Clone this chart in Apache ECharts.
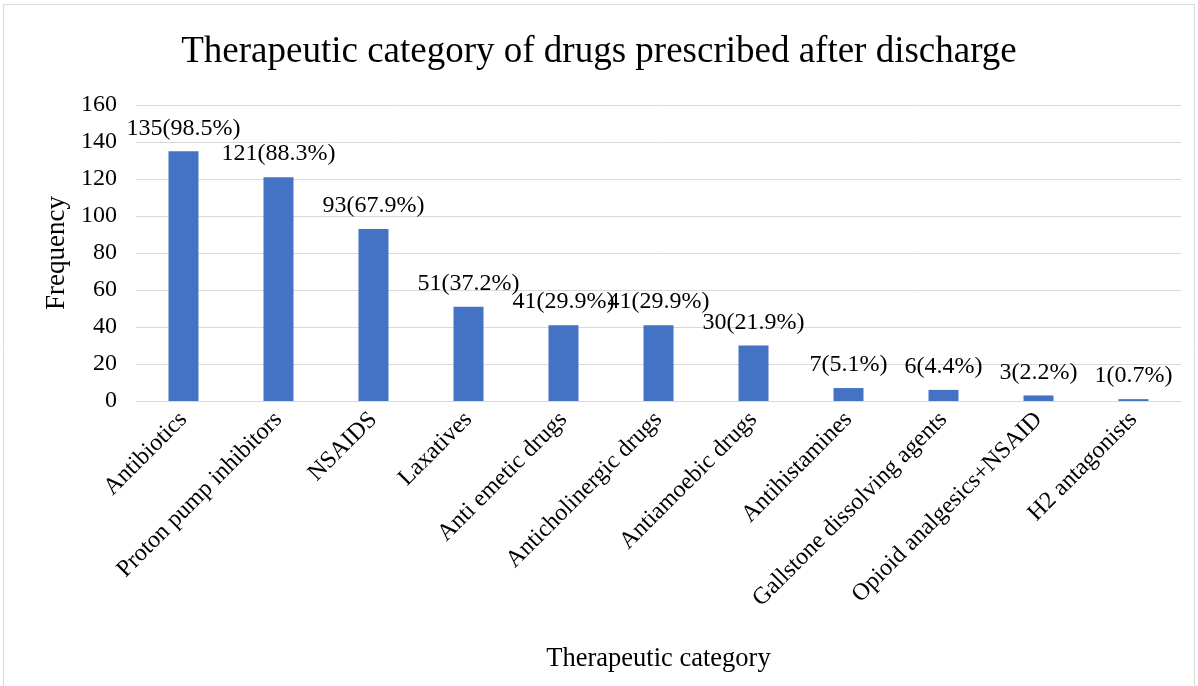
<!DOCTYPE html>
<html><head><meta charset="utf-8">
<script src="https://cdn.jsdelivr.net/npm/echarts@6/dist/echarts.min.js"></script>
<style>html,body{margin:0;padding:0;background:#fff}#c{width:1198px;height:686px}</style>
</head><body><div id="c"></div>
<script>
const categories = ["Antibiotics","Proton pump inhibitors","NSAIDS","Laxatives","Anti emetic drugs","Anticholinergic drugs","Antiamoebic drugs","Antihistamines","Gallstone dissolving agents","Opioid analgesics+NSAID","H2 antagonists"];
const frequency = [135,121,93,51,41,41,30,7,6,3,1];
const percents = ["98.5","88.3","67.9","37.2","29.9","29.9","21.9","5.1","4.4","2.2","0.7"];
const yTicks = [0,20,40,60,80,100,120,140,160];

const FONT = "'Liberation Serif','Times New Roman',serif";
const chart = echarts.init(document.getElementById('c'));
chart.setOption({
  animation:false,
  title:{text:"Therapeutic category of drugs prescribed after discharge",left:'center',top:29,
    textStyle:{fontFamily:FONT,fontSize:37,fontWeight:'normal',color:'#000'}},
  graphic:[{type:'rect',shape:{x:3.5,y:4.5,width:1191,height:690},style:{fill:'none',stroke:'#d9d9d9',lineWidth:1}}],
  grid:{left:136,right:17,top:105,bottom:285,containLabel:false},
  xAxis:{type:'category',data:categories,
    name:'Therapeutic category',nameLocation:'middle',nameGap:245,
    nameTextStyle:{fontFamily:FONT,fontSize:26.5,color:'#000'},
    axisLine:{show:true,lineStyle:{color:'#d9d9d9',width:1}},
    axisTick:{show:false},
    axisLabel:{rotate:45,interval:0,margin:15,fontFamily:FONT,fontSize:24,color:'#000'}},
  yAxis:{type:'value',min:0,max:160,interval:20,
    name:'Frequency',nameLocation:'middle',nameGap:62,nameRotate:90,
    nameTextStyle:{fontFamily:FONT,fontSize:27,color:'#000'},
    axisLine:{show:false},axisTick:{show:false},
    splitLine:{lineStyle:{color:'#d9d9d9',width:1}},
    axisLabel:{fontFamily:FONT,fontSize:24,color:'#000',margin:19,
      formatter:v=>yTicks.includes(v)?String(v):''}},
  series:[{type:'bar',data:frequency,barWidth:30,
    itemStyle:{color:'#4472C4'},
    label:{show:true,position:'top',distance:11,fontFamily:FONT,fontSize:24,color:'#000',
      formatter:p=>p.value+'('+percents[p.dataIndex]+'%)'}}]
});
</script></body></html>
